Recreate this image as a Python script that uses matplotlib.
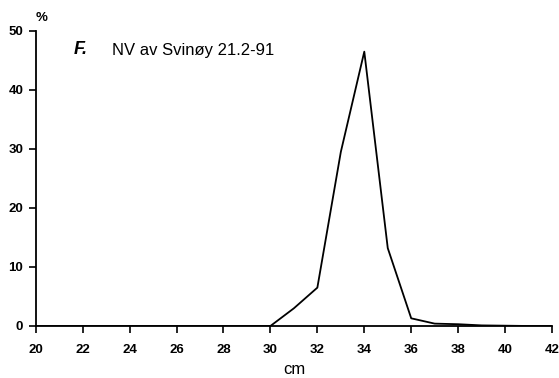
import matplotlib
matplotlib.use("Agg")
import matplotlib.pyplot as plt

length_cm = [20, 21, 22, 23, 24, 25, 26, 27, 28, 29, 30, 31, 32, 33, 34, 35, 36, 37, 38, 39, 40, 41, 42]
percent = [0, 0, 0, 0, 0, 0, 0, 0, 0, 0, 0, 3.0, 6.5, 29.5, 46.5, 13.2, 1.3, 0.4, 0.3, 0.1, 0.05, 0, 0]
xticks = list(range(20, 43, 2))
yticks = [0, 10, 20, 30, 40, 50]

plt.rcParams['font.family'] = ['Liberation Sans', 'DejaVu Sans']

fig = plt.figure(figsize=(5.59, 3.78), dpi=100)
ax = fig.add_axes([0.064, 0.1376, 0.9235, 0.7804])
ax.plot(length_cm, percent, color='black', lw=1.3)
ax.set_xlim(20, 42)
ax.set_ylim(0, 50)
ax.set_xticks(xticks)
ax.set_yticks(yticks)
for s in ['top', 'right']:
    ax.spines[s].set_visible(False)
for s in ['left', 'bottom']:
    ax.spines[s].set_linewidth(1.3)
ax.tick_params(direction='out', length=5, width=1.2, labelsize=9.5)
ax.tick_params(axis='x', pad=8)
ax.tick_params(axis='y', pad=4)
for lab in ax.get_xticklabels() + ax.get_yticklabels():
    lab.set_fontweight('bold')
ax.set_xlabel('cm', fontsize=12, labelpad=4)
fig.text(42/559, 1 - 18/378, '%', ha='center', va='center', fontsize=9.5, fontweight='bold')
fig.text(74/559, 1 - 50/378, 'F.', ha='left', va='center', fontsize=13, fontweight='bold', style='italic')
fig.text(112/559, 1 - 50/378, 'NV av Svinøy 21.2-91', ha='left', va='center', fontsize=12)
fig.savefig('out.png', dpi=100)
